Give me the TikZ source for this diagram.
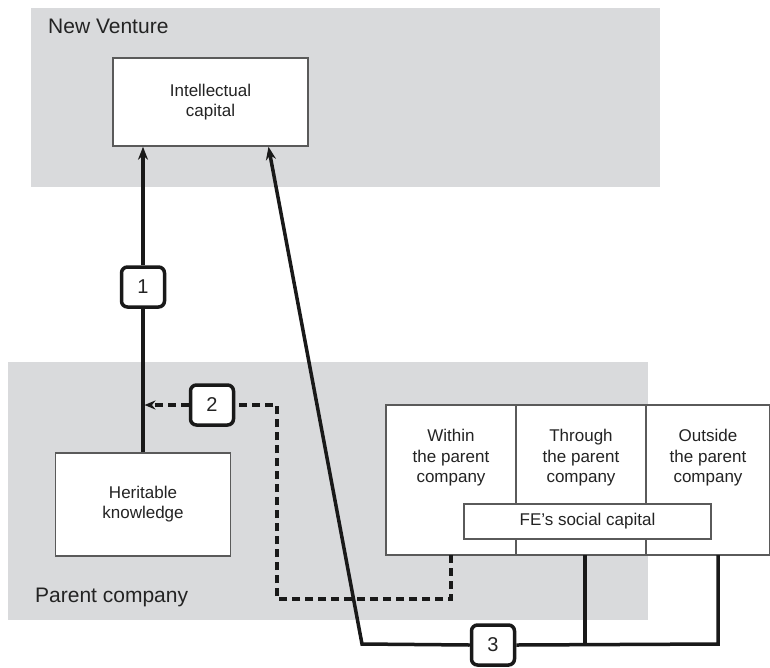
\documentclass[tikz,border=0pt]{standalone}
\usepackage{fontspec}
\setmainfont{Liberation Sans}
\usetikzlibrary{arrows.meta,positioning,backgrounds}
\definecolor{pcgrey}{HTML}{D9DADC}
\definecolor{pcline}{HTML}{5A5A5A}
\definecolor{pctext}{HTML}{232323}

\begin{document}
\begin{tikzpicture}[x=1pt,y=-1pt,
  band/.style={fill=pcgrey,inner sep=0pt,anchor=north west},
  box/.style={draw=pcline,fill=white,line width=1.5pt,align=center,inner sep=0pt,
              font=\fontsize{17}{20}\selectfont,text=pctext},
  col/.style={box,outer sep=0pt,minimum width=130pt,minimum height=150pt,anchor=north west},
  coltxt/.style={align=center,font=\fontsize{17}{20.5}\selectfont,text=pctext},
  lbl/.style={font=\fontsize{21}{25}\selectfont,text=pctext,inner sep=0pt,anchor=base west},
  num/.style={draw=black!90,fill=white,line width=3.5pt,rounded corners=6pt,minimum width=43pt,
              minimum height=40pt,inner sep=0pt,font=\fontsize{20}{24}\selectfont,text=pctext},
  link/.style={line width=3.5pt,draw=black!90},
  arr/.style={link,-{Stealth[length=13pt,width=10pt]}},
  dlink/.style={link,dash pattern=on 8pt off 5pt}
]
\useasboundingbox (0,0) rectangle (770,667);

% the two firms
\node[band,minimum width=629pt,minimum height=179pt] (NV) at (31,8) {};
\node[band,minimum width=640pt,minimum height=258pt] (PC) at (8,362) {};
\node[lbl] (nvlbl) at ([xshift=17pt,yshift=-25pt]NV.north west) {New Venture};
\node[lbl] (pclbl) at ([xshift=27pt,yshift=18pt]PC.south west) {Parent company};

\node[box,minimum width=195pt,minimum height=88pt] (ic) at (210.5,102) {Intellectual\\capital};
\node[box,minimum width=175pt,minimum height=103pt] (hk) at (143,504.5) {Heritable\\knowledge};

% social capital columns
\node[col] (within) at (386,405) {};
\node[col,right=0pt of within] (through) {};
\node[col,right=0pt of through,minimum width=124pt] (outside) {};
\node[coltxt,below=21pt of within.north] (wtxt) {Within\\the parent\\company};
\node[coltxt,below=21pt of through.north] (ttxt) {Through\\the parent\\company};
\node[coltxt,below=21pt of outside.north] (otxt) {Outside\\the parent\\company};
\node[box,minimum width=247pt,minimum height=35pt] (fesc) at (587.5,521.5) {FE's social capital};

% numbered paths
\node[num] (n1) at (143,287) {1};
\node[num] (n2) at (212,405) {2};
\node[num] (n3) at (493,645) {3};
\coordinate (c2) at (277,599);
\coordinate (c3) at (362,644);
\coordinate (b3) at (718,644);

\draw[link] (hk.north) -- (n1.south);
\draw[arr] (n1.north) -- (n1.north |- ic.south);

\draw[dlink] (within.south) |- (c2) |- (n2.east);
\draw[dlink,-{Stealth[length=11pt,width=9pt]},shorten >=1.5pt] (n2.west) -- (n2.west -| n1.center);

\draw[arr] (n3.west) -- (c3) -- ([xshift=58pt]ic.south);
\draw[link] (n3.east) -- (b3) -- (b3 |- outside.south);
\draw[link] ([xshift=4pt]through.south) -- ([xshift=4pt]through.south |- b3);
\end{tikzpicture}
\end{document}
